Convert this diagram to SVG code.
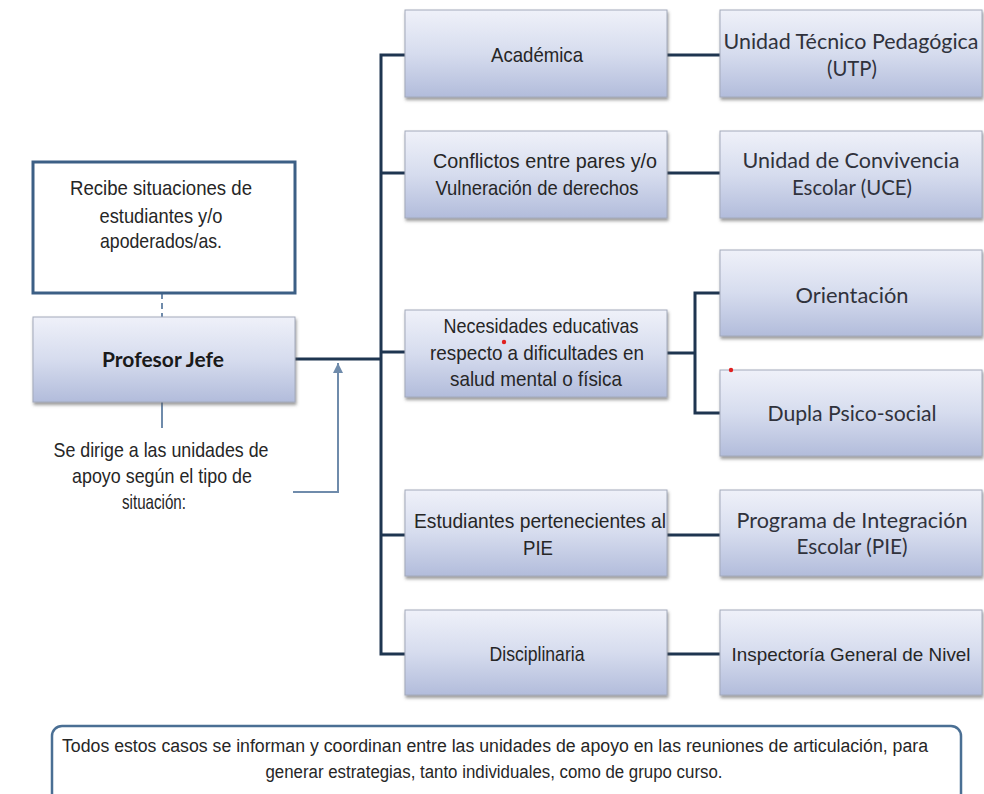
<svg xmlns="http://www.w3.org/2000/svg" width="984" height="794" viewBox="0 0 984 794">
<style>
.box{fill:url(#g);stroke:#a3aabb;stroke-width:1;filter:url(#sh)}
.t{font-family:"Liberation Sans",Arial,sans-serif;font-size:21px;fill:#262626;text-anchor:middle}
.c{font-family:Lato,"Open Sans",sans-serif;font-size:22px;fill:#30323c;text-anchor:middle}
.b{font-family:Lato,"Open Sans",sans-serif;font-size:20px;font-weight:bold;fill:#1a1a1a;text-anchor:middle}
.bt{font-family:"Liberation Sans",Arial,sans-serif;font-size:18px;fill:#262626;text-anchor:middle}
.ln{stroke:#1e3550;stroke-width:3;fill:none}
.lt{stroke:#6f8bab;stroke-width:2;fill:none}
</style>
<defs>
<linearGradient id="g" x1="0" y1="0" x2="0" y2="1">
<stop offset="0" stop-color="#eff1f9"/>
<stop offset="0.5" stop-color="#d6dcee"/>
<stop offset="1" stop-color="#b2bcdb"/>
</linearGradient>
<filter id="sh" x="-5%" y="-10%" width="115%" height="130%">
<feDropShadow dx="1" dy="2.5" stdDeviation="1.5" flood-color="#555" flood-opacity="0.6"/>
</filter>
<marker id="ah" markerWidth="10" markerHeight="10" refX="10" refY="5" orient="auto" markerUnits="userSpaceOnUse" viewBox="0 0 10 10">
<path d="M0,0 L10,5 L0,10 Z" fill="#6f8bab"/>
</marker>
</defs>
<rect width="984" height="794" fill="#ffffff"/>

<g id="connectors">
<line class="lt" x1="162" y1="293" x2="162" y2="317" stroke-dasharray="6 4"/>
<line class="lt" x1="162" y1="402" x2="162" y2="428"/>
<path class="lt" d="M293,492 H338 V363" marker-end="url(#ah)"/>
<line class="ln" x1="295" y1="359" x2="381" y2="359"/>
<path class="ln" d="M405,55 H381 V654 H405"/>
<line class="ln" x1="381" y1="173" x2="405" y2="173"/>
<line class="ln" x1="381" y1="352" x2="405" y2="352"/>
<line class="ln" x1="381" y1="535" x2="405" y2="535"/>
<line class="ln" x1="667" y1="55" x2="720" y2="55"/>
<line class="ln" x1="667" y1="173" x2="720" y2="173"/>
<line class="ln" x1="667" y1="535" x2="720" y2="535"/>
<line class="ln" x1="667" y1="654" x2="720" y2="654"/>
<line class="ln" x1="667" y1="353" x2="695" y2="353"/>
<path class="ln" d="M720,293 H695 V413 H720"/>
</g>

<g id="recibe">
<rect x="33" y="162" width="262" height="131" fill="#ffffff" stroke="#3c5f85" stroke-width="3"/>
<text class="t" x="161" y="195" textLength="182" lengthAdjust="spacingAndGlyphs">Recibe situaciones de</text>
<text class="t" x="161" y="223" textLength="123" lengthAdjust="spacingAndGlyphs">estudiantes y/o</text>
<text class="t" x="161" y="248" textLength="122" lengthAdjust="spacingAndGlyphs">apoderados/as.</text>
</g>

<g id="profesor">
<rect class="box" x="33" y="317" width="262" height="85"/>
<text class="b" x="163" y="367" textLength="122" lengthAdjust="spacingAndGlyphs">Profesor Jefe</text>
</g>

<g id="se-dirige">
<text class="t" x="161" y="457" textLength="215" lengthAdjust="spacingAndGlyphs">Se dirige a las unidades de</text>
<text class="t" x="162" y="483" textLength="180" lengthAdjust="spacingAndGlyphs">apoyo según el tipo de</text>
<text class="t" x="154" y="509" textLength="64" lengthAdjust="spacingAndGlyphs">situación:</text>
</g>

<g id="academica">
<rect class="box" x="405" y="10" width="262" height="87"/>
<text class="t" x="537" y="62" textLength="92" lengthAdjust="spacingAndGlyphs">Académica</text>
</g>
<g id="conflictos">
<rect class="box" x="405" y="131" width="262" height="87"/>
<text class="t" x="545" y="168" textLength="224" lengthAdjust="spacingAndGlyphs">Conflictos entre pares y/o</text>
<text class="t" x="537" y="195" textLength="203" lengthAdjust="spacingAndGlyphs">Vulneración de derechos</text>
</g>
<g id="necesidades">
<rect class="box" x="405" y="310" width="262" height="87"/>
<text class="t" x="541" y="333" textLength="195" lengthAdjust="spacingAndGlyphs">Necesidades educativas</text>
<text class="t" x="537" y="360" textLength="214" lengthAdjust="spacingAndGlyphs">respecto a dificultades en</text>
<text class="t" x="536" y="386" textLength="172" lengthAdjust="spacingAndGlyphs">salud mental o física</text>
<circle cx="504" cy="342" r="2.2" fill="#e02020"/>
</g>
<g id="estudiantes">
<rect class="box" x="405" y="490" width="262" height="86"/>
<text class="t" x="540" y="528" textLength="252" lengthAdjust="spacingAndGlyphs">Estudiantes pertenecientes al</text>
<text class="t" x="538" y="555" textLength="30" lengthAdjust="spacingAndGlyphs">PIE</text>
</g>
<g id="disciplinaria">
<rect class="box" x="405" y="610" width="262" height="85"/>
<text class="t" x="537" y="661" textLength="95" lengthAdjust="spacingAndGlyphs">Disciplinaria</text>
</g>

<g id="utp">
<rect class="box" x="720" y="10" width="262" height="87"/>
<text class="c" x="851" y="49" textLength="255" lengthAdjust="spacingAndGlyphs">Unidad Técnico Pedagógica</text>
<text class="c" x="852" y="76" textLength="50" lengthAdjust="spacingAndGlyphs">(UTP)</text>
</g>
<g id="uce">
<rect class="box" x="720" y="131" width="262" height="87"/>
<text class="c" x="851" y="168" textLength="217" lengthAdjust="spacingAndGlyphs">Unidad de Convivencia</text>
<text class="c" x="852" y="195" textLength="120" lengthAdjust="spacingAndGlyphs">Escolar (UCE)</text>
</g>
<g id="orientacion">
<rect class="box" x="720" y="250" width="262" height="86"/>
<text class="c" x="852" y="303" textLength="113" lengthAdjust="spacingAndGlyphs">Orientación</text>
</g>
<g id="dupla">
<rect class="box" x="720" y="370" width="262" height="86"/>
<text class="c" x="852" y="421" textLength="169" lengthAdjust="spacingAndGlyphs">Dupla Psico-social</text>
<circle cx="731" cy="370" r="2.2" fill="#e02020"/>
</g>
<g id="pie">
<rect class="box" x="720" y="490" width="262" height="86"/>
<text class="c" x="852" y="528" textLength="231" lengthAdjust="spacingAndGlyphs">Programa de Integración</text>
<text class="c" x="852" y="554" textLength="111" lengthAdjust="spacingAndGlyphs">Escolar (PIE)</text>
</g>
<g id="inspectoria">
<rect class="box" x="720" y="610" width="262" height="85"/>
<text class="t" x="851" y="661" style="font-size:19px" textLength="239" lengthAdjust="spacingAndGlyphs">Inspectoría General de Nivel</text>
</g>

<g id="nota">
<rect x="52" y="726" width="909" height="100" rx="10" fill="#ffffff" stroke="#4a6f94" stroke-width="2.5"/>
<text class="bt" x="495" y="752" textLength="866" lengthAdjust="spacingAndGlyphs">Todos estos casos se informan y coordinan entre las unidades de apoyo en las reuniones de articulación, para</text>
<text class="bt" x="494" y="778" textLength="457" lengthAdjust="spacingAndGlyphs">generar estrategias, tanto individuales, como de grupo curso.</text>
</g>
</svg>
